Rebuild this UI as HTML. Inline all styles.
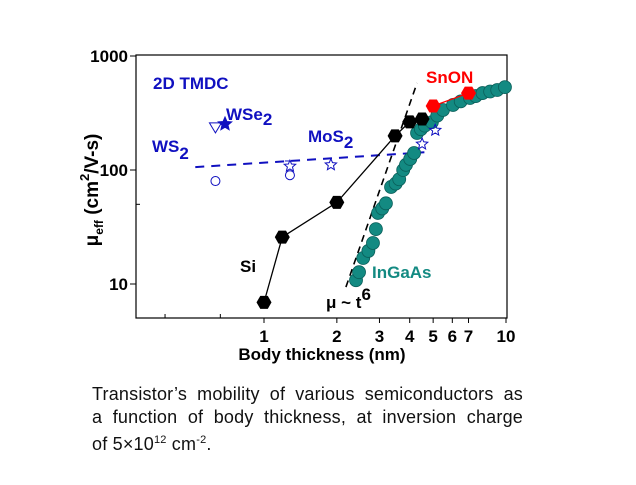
<!DOCTYPE html>
<html><head><meta charset="utf-8">
<style>
body{margin:0;background:#fff;width:636px;height:485px;overflow:hidden;font-family:"Liberation Sans",sans-serif}
#cap{position:absolute;left:92px;top:383px;width:431px;font-size:18px;line-height:23px;color:#111}
#cap div{white-space:nowrap;width:431px;text-align:justify;text-align-last:justify;letter-spacing:0.2px}
#cap div.last{text-align-last:left}
</style></head><body>
<svg id="chart" width="636" height="380" style="position:absolute;left:0;top:0" font-family="Liberation Sans, sans-serif"></svg>
<div id="cap"><div>Transistor’s mobility of various semiconductors as</div><div>a function of body thickness, at inversion charge</div><div class="last">of 5×10<sup style="font-size:11px">12</sup> cm<sup style="font-size:11px">-2</sup>.</div></div>
<script>
const xTicks=[1,2,3,4,5,6,7,10];
const yTicks=[10,100,1000];
const siX=[1.0,1.19,2.0,3.48,4.0,4.5];
const siY=[6.9,25.8,52,199,264,280];
const snX=[5.0,7.0];
const snY=[364,473];
const ingX=[2.40,2.47,2.57,2.70,2.82,2.90,2.96,3.08,3.19,3.35,3.50,3.62,3.76,3.86,4.02,4.17,4.29,4.45,4.62,4.94,5.2,5.49,6.04,6.5,7.1,7.5,8.0,8.6,9.2,9.9];
const ingY=[10.8,12.7,16.9,19.5,22.9,30.3,42,46,51,71,76,83,100,111,125,141,211,228,245,263,300,336,372,400,428,445,473,488,503,533];
const fitX=[2.18,4.29];
const fitY=[9.4,580];
const mosLineX=[0.52,4.6];
const mosLineY=[106,143];
const circX=[0.63,1.28];
const circY=[80,90];
const starX=[1.28,1.89,4.5,5.1];
const starY=[108,111,169,223];

const L=136,R=507,T=55,B=318;
const X=v=>264+242*Math.log10(v);
const Y=v=>170-114*Math.log10(v/100);
const svg=document.getElementById('chart');
const NS='http://www.w3.org/2000/svg';
function mk(tag,a,name){const e=document.createElementNS(NS,tag);for(const k in a)e.setAttribute(k,a[k]);


svg.appendChild(e);return e;}
function txt(x,y,s,a,name){const e=mk('text',Object.assign({x:x,y:y},a),name);e.innerHTML=s;return e;}

mk('rect',{x:L,y:T,width:R-L,height:B-T,fill:'none',stroke:'#000','stroke-width':1.2},'plot-frame');
yTicks.forEach(v=>{mk('line',{x1:L-6,x2:L,y1:Y(v),y2:Y(v),stroke:'#000'},'y-tick');
txt(128,Y(v)+6,v,{'font-size':17,'font-weight':'bold','text-anchor':'end'},'y-tick-label');});
[50].forEach(v=>mk('line',{x1:L,x2:L+4,y1:Y(v),y2:Y(v),stroke:'#000'},'y-minor-tick'));
xTicks.forEach(v=>{mk('line',{x1:X(v),x2:X(v),y1:B,y2:B+5,stroke:'#000'},'x-tick');
txt(X(v),B+24,v,{'font-size':17,'font-weight':'bold','text-anchor':'middle'},'x-tick-label');});
[0.39,0.66].forEach(v=>mk('line',{x1:X(v),x2:X(v),y1:B,y2:B-4,stroke:'#000'},'x-minor-tick'));
txt(322,360,'Body thickness (nm)',{'font-size':17,'font-weight':'bold','text-anchor':'middle'},'x-axis-title');
txt(0,0,'μ<tspan font-size="12" dy="5">eff</tspan><tspan dy="-5"> (cm</tspan><tspan font-size="13" dy="-9">2</tspan><tspan dy="9">/V-s)</tspan>',{'font-size':19,'font-weight':'bold','text-anchor':'middle',transform:'translate(98,190) rotate(-90)'},'y-axis-title');

mk('line',{x1:X(fitX[0]),y1:Y(fitY[0]),x2:X(fitX[1]),y2:Y(fitY[1]),stroke:'#000','stroke-width':1.6,'stroke-dasharray':'7,5'},'fit-line');
mk('line',{x1:X(mosLineX[0]),y1:Y(mosLineY[0]),x2:X(mosLineX[1]),y2:Y(mosLineY[1]),stroke:'#1010c0','stroke-width':2,'stroke-dasharray':'9,7'},'tmdc-trend-line');
ingX.forEach((v,i)=>mk('circle',{cx:X(v),cy:Y(ingY[i]),r:6.5,fill:'#138a82',stroke:'#0a5f5a','stroke-width':0.8},'ingaas-point'));
function hex(cx,cy,r,fill,name){let p=[];for(let k=0;k<6;k++){const a=Math.PI/3*k;p.push((cx+r*Math.cos(a)).toFixed(1)+','+(cy+r*Math.sin(a)).toFixed(1));}
mk('polygon',{points:p.join(' '),fill:fill},name);}
mk('polyline',{points:siX.map((v,i)=>X(v)+','+Y(siY[i])).join(' '),fill:'none',stroke:'#000','stroke-width':1.3},'si-line');
siX.forEach((v,i)=>hex(X(v),Y(siY[i]),7.5,'#000','si-point'));
mk('polyline',{points:snX.map((v,i)=>X(v)+','+Y(snY[i])).join(' '),fill:'none',stroke:'#f00','stroke-width':1.3},'snon-line');
snX.forEach((v,i)=>hex(X(v),Y(snY[i]),7.5,'#f00','snon-point'));
circX.forEach((v,i)=>mk('circle',{cx:X(v),cy:Y(circY[i]),r:4.5,fill:'none',stroke:'#1010c0','stroke-width':1},'mos2-circle'));
function star(cx,cy,r,fill,name){let p=[];for(let k=0;k<10;k++){const a=-Math.PI/2+Math.PI/5*k,rr=k%2?r*0.45:r;p.push((cx+rr*Math.cos(a)).toFixed(1)+','+(cy+rr*Math.sin(a)).toFixed(1));}
mk('polygon',{points:p.join(' '),fill:fill,stroke:'#1010c0','stroke-width':1},name);}
starX.forEach((v,i)=>star(X(v),Y(starY[i]),6,'none','mos2-star'));
mk('line',{x1:X(1.28)-5,x2:X(1.28)+5,y1:Y(120),y2:Y(120),stroke:'#1010c0'},'error-bar');
star(X(0.69),Y(253),7,'#1010c0','wse2-star');
mk('polygon',{points:`${X(0.63)-6},${Y(234)-5} ${X(0.63)+6},${Y(234)-5} ${X(0.63)},${Y(234)+5}`,fill:'none',stroke:'#1010c0'},'ws2-triangle');
const B1={'font-size':17,'font-weight':'bold'};
txt(153,89,'2D TMDC',Object.assign({fill:'#1010c0'},B1),'tmdc-label');
txt(226,120,'WSe<tspan dy="5">2</tspan>',Object.assign({fill:'#1010c0'},B1),'wse2-label');
txt(152,152,'WS<tspan dy="7">2</tspan>',Object.assign({fill:'#1010c0'},B1),'ws2-label');
txt(308,142,'MoS<tspan dy="6">2</tspan>',Object.assign({fill:'#1010c0'},B1),'mos2-label');
txt(426,83,'SnON',Object.assign({fill:'#f00'},B1),'snon-label');
txt(240,272,'Si',Object.assign({fill:'#000'},B1),'si-label');
txt(372,278,'InGaAs',Object.assign({fill:'#138a82'},B1),'ingaas-label');
txt(326,308,'μ ~ t<tspan dy="-8">6</tspan>',Object.assign({fill:'#000'},B1),'fit-label');
</script>
</body></html>
